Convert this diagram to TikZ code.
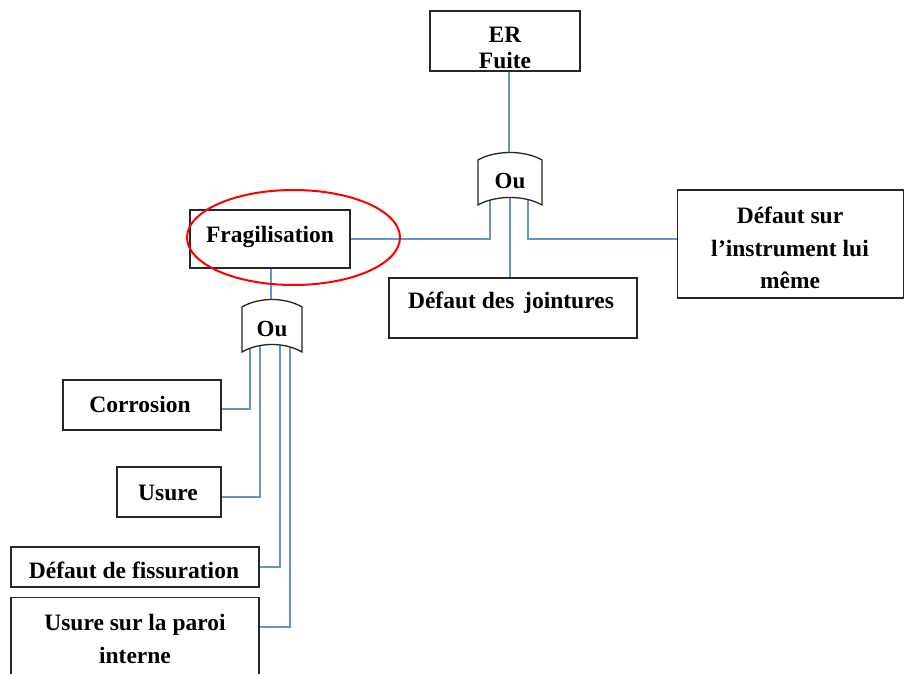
\documentclass[tikz,border=0pt]{standalone}
\usepackage{fontspec}
\setmainfont{Liberation Serif}
\begin{document}
\begin{tikzpicture}[x=1pt,y=-1pt,
  box/.style={draw=black!85,line width=1.4pt,fill=white,inner sep=0pt},
  txt/.style={inner sep=0pt,align=center,font=\fontsize{23.5}{32.5}\selectfont\bfseries},
  link/.style={draw=linkblue,line width=1.6pt},
  gate/.style={draw=black!85,line width=1.3pt,fill=white},
  gatetext/.style={font=\fontsize{23}{26}\selectfont\bfseries,inner sep=0pt}]
\definecolor{linkblue}{RGB}{104,146,204}
\clip (0,0) rectangle (905,674);
\fill[white] (0,0) rectangle (905,674);
% boxes
\node[box,minimum width=150pt,minimum height=60pt] (er) at (505,41) {};
\node[box,minimum width=160pt,minimum height=58pt] (frag) at (270,239) {};
\node[box,minimum width=248pt,minimum height=60pt] (joint) at (513,308) {};
\node[box,minimum width=226pt,minimum height=108pt] (instr) at (790.5,244) {};
\node[box,minimum width=158pt,minimum height=50pt] (corr) at (142,405) {};
\node[box,minimum width=104pt,minimum height=50pt] (usure) at (169,492) {};
\node[box,minimum width=248pt,minimum height=40pt] (fiss) at (135,567) {};
\node[box,minimum width=248pt,minimum height=88pt,anchor=north] (paroi) at (135,597) {};
% texts
\node[txt,font=\fontsize{23.5}{25.5}\selectfont\bfseries] (ert) at (505,48) {ER\\Fuite};
\node[txt] (fragt) at (270,237) {Fragilisation};
\node[txt] (jointt) at (511,303) {D\'efaut des\, jointures};
\node[txt] (instrt) at (790,248) {D\'efaut sur\\l\kern0.3pt’instrument lui\\m\^eme};
\node[txt] (corrt) at (140,404) {Corrosion};
\node[txt] (usuret) at (168,493) {Usure};
\node[txt] (fisst) at (134,570) {D\'efaut de fissuration};
\node[txt] (paroit) at (135,639) {Usure sur la paroi\\interne};
% gate anchor coordinates
\coordinate (g1top) at (509,165);
\coordinate (g1a) at (490,190);
\coordinate (g1b) at (510,190);
\coordinate (g1c) at (528,190);
\coordinate (g2top) at (271,315);
\coordinate (g2a) at (250,340);
\coordinate (g2b) at (260,340);
\coordinate (g2c) at (280,340);
\coordinate (g2d) at (290,340);
% connectors
\draw[link] (er.south -| g1top) -- (g1top);
\draw[link] (frag.east) -| (g1a);
\draw[link] (g1b) -- (g1b |- joint.north);
\draw[link] (instr.west |- frag.east) -| (g1c);
\draw[link] (frag.south -| g2top) -- (g2top);
\draw[link] ([yshift=-4pt]corr.east) -| (g2a);
\draw[link] ([yshift=-5pt]usure.east) -| (g2b);
\draw[link] (fiss.east) -| (g2c);
\draw[link] ([yshift=-30pt]paroi.north east) -| (g2d);
% gates
\path[gate] (478,160) .. controls (495,150) and (525,150) .. (542,160) -- (542,205)
  .. controls (525,195) and (495,195) .. (478,205) -- cycle;
\node[gatetext] (ou1) at (510,181) {Ou};
\path[gate] (242,307) .. controls (259,297) and (285,297) .. (302,307) -- (302,352)
  .. controls (285,342) and (259,342) .. (242,352) -- cycle;
\node[gatetext] (ou2) at (272,329) {Ou};
% highlight
\draw[red,line width=2pt] (293.5,237.5) ellipse [x radius=106.5,y radius=47.5];
\end{tikzpicture}
\end{document}
